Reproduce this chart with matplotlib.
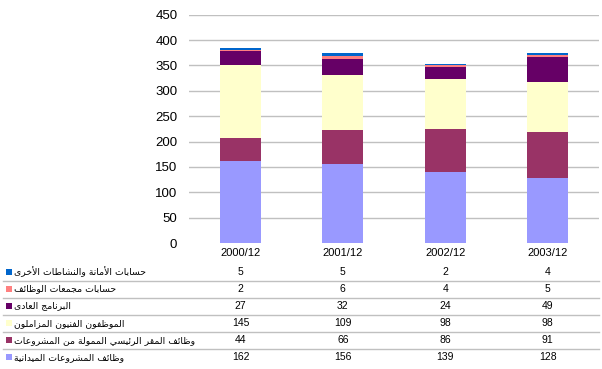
import matplotlib
matplotlib.use("Agg")
import matplotlib.pyplot as plt
from matplotlib.lines import Line2D
from matplotlib.patches import Rectangle
from matplotlib import transforms

# ---------------- data ----------------
categories = ["2000/12", "2001/12", "2002/12", "2003/12"]
series_names = [
    "وظائف المشروعات الميدانية",
    "وظائف المقر الرئيسي الممولة من المشروعات",
    "الموظفون الفنيون المزاملون",
    "البرنامج العادى",
    "حسابات مجمعات الوظائف",
    "حسابات الأمانة والنشاطات الأخرى",
]
field_posts = [162, 156, 139, 128]
hq_project_posts = [44, 66, 86, 91]
associate_experts = [145, 109, 98, 98]
regular_programme = [27, 32, 24, 49]
pool_accounts = [2, 6, 4, 5]
trust_accounts = [5, 5, 2, 4]
series_values = [field_posts, hq_project_posts, associate_experts,
                 regular_programme, pool_accounts, trust_accounts]
colors = ["#9999FF", "#993366", "#FFFFCC", "#660066", "#FF8080", "#0066CC"]
y_ticks = [0, 50, 100, 150, 200, 250, 300, 350, 400, 450]

# ---------------- minimal Arabic shaping ----------------
def _four(b):
    return tuple(chr(b + k) for k in range(4))

def _two(b):
    return (chr(b), chr(b + 1))

AR = {
    'ء': (chr(0xFE80),), 'آ': _two(0xFE81), 'أ': _two(0xFE83), 'ؤ': _two(0xFE85),
    'إ': _two(0xFE87), 'ئ': _four(0xFE89), 'ا': _two(0xFE8D), 'ب': _four(0xFE8F),
    'ة': _two(0xFE93), 'ت': _four(0xFE95), 'ث': _four(0xFE99), 'ج': _four(0xFE9D),
    'ح': _four(0xFEA1), 'خ': _four(0xFEA5), 'د': _two(0xFEA9), 'ذ': _two(0xFEAB),
    'ر': _two(0xFEAD), 'ز': _two(0xFEAF), 'س': _four(0xFEB1), 'ش': _four(0xFEB5),
    'ص': _four(0xFEB9), 'ض': _four(0xFEBD), 'ط': _four(0xFEC1), 'ظ': _four(0xFEC5),
    'ع': _four(0xFEC9), 'غ': _four(0xFECD), 'ف': _four(0xFED1), 'ق': _four(0xFED5),
    'ك': _four(0xFED9), 'ل': _four(0xFEDD), 'م': _four(0xFEE1), 'ن': _four(0xFEE5),
    'ه': _four(0xFEE9), 'و': _two(0xFEED), 'ى': _two(0xFEEF), 'ي': _four(0xFEF1),
}
LAMALEF = {'آ': _two(0xFEF5), 'أ': _two(0xFEF7), 'إ': _two(0xFEF9), 'ا': _two(0xFEFB)}

def shape_ar(s):
    toks = []
    i = 0
    while i < len(s):
        c = s[i]
        if c == 'ل' and i + 1 < len(s) and s[i + 1] in LAMALEF:
            toks.append(LAMALEF[s[i + 1]]); i += 2
        else:
            toks.append(AR.get(c, c)); i += 1
    out = []
    for j, t in enumerate(toks):
        if isinstance(t, str):
            out.append(t); continue
        prev = toks[j - 1] if j > 0 else None
        nxt = toks[j + 1] if j + 1 < len(toks) else None
        pc = isinstance(prev, tuple) and len(prev) == 4
        nc = isinstance(nxt, tuple) and len(nxt) >= 2
        if len(t) == 4:
            idx = {(False, False): 0, (True, False): 1, (False, True): 2, (True, True): 3}[(pc, nc)]
        elif len(t) == 2:
            idx = 1 if pc else 0
        else:
            idx = 0
        out.append(t[idx])
    return ''.join(out)[::-1]

# ---------------- figure ----------------
W, H = 602, 369
fig = plt.figure(figsize=(W / 100, H / 100), dpi=100)
fig.patch.set_facecolor("white")

ax_left, ax_right = 189.3, 598.7
ax_top, ax_bottom = 14.7, 243.0
ax = fig.add_axes([ax_left / W, (H - ax_bottom) / H,
                   (ax_right - ax_left) / W, (ax_bottom - ax_top) / H])

x = list(range(len(categories)))
bottom = [0] * len(categories)
for vals, col in zip(series_values, colors):
    ax.bar(x, vals, width=0.4, bottom=bottom, color=col, linewidth=0, zorder=3)
    bottom = [b + v for b, v in zip(bottom, vals)]

ax.set_xlim(-0.5, len(categories) - 0.5)
ax.set_ylim(0, 450)
ax.set_yticks(y_ticks)
ax.set_yticklabels([str(t) for t in y_ticks], fontsize=9.5, family=["Liberation Sans"])
ax.tick_params(axis="y", length=0, pad=8.6)
ax.set_xticks([])
for t in y_ticks[1:]:
    ax.axhline(t, color="#C0C0C0", lw=1, zorder=1)
for sp in ax.spines.values():
    sp.set_visible(False)

# ---------------- data table ----------------
trans = transforms.blended_transform_factory(ax.transData, fig.transFigure)
def fy(ypix):
    return (H - ypix) / H

for xi, cat in zip(x, categories):
    fig.text(xi, fy(253), cat, transform=trans, ha="center", va="center",
             fontsize=8, family=["Liberation Sans"])

row0, pitch = 272.0, 17.05
n = len(series_names)
for r in range(n):
    k = n - 1 - r  # top row is last series
    yc = row0 + r * pitch
    fig.patches.append(Rectangle((6 / W, fy(yc + 3)), 6 / W, 6 / H,
                                 transform=fig.transFigure, facecolor=colors[k],
                                 edgecolor="none"))
    fig.text(14 / W, fy(yc), shape_ar(series_names[k]), ha="left", va="center",
             fontsize=6.7, family=["DejaVu Sans"])
    for xi, v in zip(x, series_values[k]):
        fig.text(xi, fy(yc), str(v), transform=trans, ha="center", va="center",
                 fontsize=7.5, family=["Liberation Sans"])
    if r < n - 1:
        ly = fy(yc + 8.5)
        fig.add_artist(Line2D([3 / W, 599 / W], [ly, ly], transform=fig.transFigure,
                              color="#C0C0C0", lw=1))

fig.savefig("out.png", dpi=100)
